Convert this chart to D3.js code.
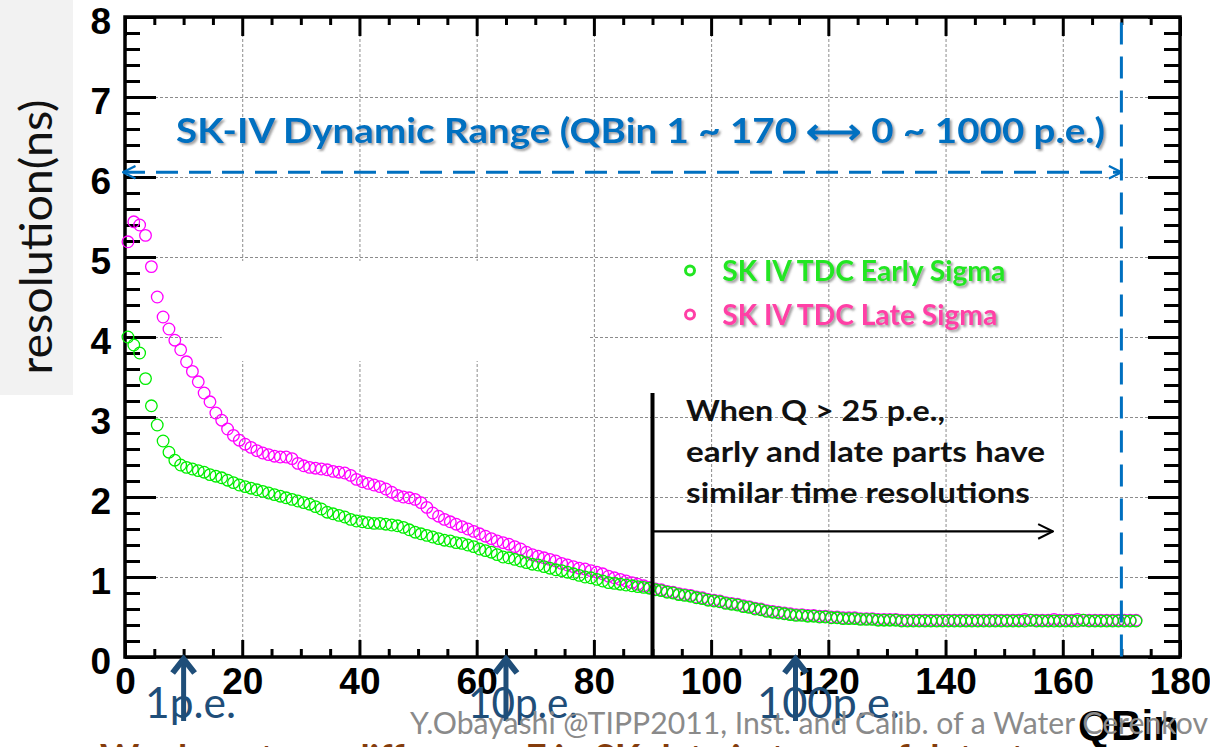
<!DOCTYPE html>
<html>
<head>
<meta charset="utf-8">
<script src="https://cdn.jsdelivr.net/npm/d3@7/dist/d3.min.js"></script>
<style>
    body { margin: 0; background: #fff; }
    svg { display: block; }
    .axis .tick text { font-family: "Liberation Sans", Arial, sans-serif; font-weight: bold; font-size: 37px; fill: #000; }
    .axis .tick line { stroke: #000; stroke-width: 3; }
    .axis .domain { display: none; }
    .grid .tick line { stroke: #8c8c8c; stroke-width: 1; stroke-dasharray: 3,2; }
    .grid .domain { display: none; }
    .calibri { font-family: Lato, "Open Sans", sans-serif; }
</style>
</head>
<body>
<svg id="chart"></svg>
<script>
// QBin index of each point (1..173)
const qbins = d3.range(1, 174);

const earlySigma = [
    4.00, 3.90, 3.80, 3.48, 3.14, 2.90, 2.70, 2.56, 2.46, 2.40,
    2.37, 2.35, 2.33, 2.31, 2.28, 2.26, 2.24, 2.21, 2.18, 2.15,
    2.13, 2.11, 2.09, 2.07, 2.05, 2.03, 2.01, 1.99, 1.97, 1.95,
    1.93, 1.91, 1.88, 1.85, 1.81, 1.79, 1.77, 1.75, 1.72, 1.70,
    1.69, 1.68, 1.67, 1.67, 1.66, 1.65, 1.64, 1.62, 1.59, 1.56,
    1.54, 1.52, 1.50, 1.48, 1.46, 1.45, 1.43, 1.42, 1.40, 1.38,
    1.35, 1.33, 1.31, 1.28, 1.25, 1.24, 1.22, 1.20, 1.18, 1.16,
    1.15, 1.13, 1.11, 1.09, 1.08, 1.06, 1.04, 1.02, 1.00, 0.99,
    0.97, 0.95, 0.93, 0.92, 0.91, 0.90, 0.89, 0.88, 0.87, 0.86,
    0.84, 0.83, 0.81, 0.80, 0.78, 0.77, 0.76, 0.74, 0.73, 0.71,
    0.70, 0.69, 0.67, 0.66, 0.65, 0.63, 0.62, 0.60, 0.59, 0.57,
    0.56, 0.55, 0.54, 0.53, 0.52, 0.52, 0.51, 0.51, 0.50, 0.50,
    0.49, 0.49, 0.48, 0.48, 0.48, 0.47, 0.47, 0.47, 0.46, 0.46,
    0.46, 0.46, 0.45, 0.45, 0.45, 0.45, 0.45, 0.45, 0.45, 0.45,
    0.45, 0.45, 0.45, 0.45, 0.45, 0.45, 0.45, 0.45, 0.45, 0.45,
    0.45, 0.45, 0.45, 0.45, 0.46, 0.45, 0.45, 0.45, 0.45, 0.45,
    0.45, 0.45, 0.45, 0.46, 0.45, 0.45, 0.45, 0.45, 0.45, 0.45,
    0.45, 0.45, 0.45
];

const lateSigma = [
    5.19, 5.44, 5.40, 5.27, 4.88, 4.50, 4.25, 4.10, 3.96, 3.84,
    3.69, 3.57, 3.44, 3.30, 3.19, 3.05, 2.96, 2.85, 2.77, 2.71,
    2.66, 2.62, 2.58, 2.55, 2.53, 2.51, 2.50, 2.50, 2.48, 2.42,
    2.39, 2.37, 2.36, 2.35, 2.34, 2.32, 2.31, 2.30, 2.27, 2.22,
    2.19, 2.17, 2.15, 2.13, 2.10, 2.06, 2.02, 2.00, 1.99, 1.97,
    1.93, 1.87, 1.80, 1.76, 1.72, 1.69, 1.66, 1.63, 1.60, 1.57,
    1.54, 1.51, 1.48, 1.45, 1.43, 1.41, 1.38, 1.35, 1.31, 1.28,
    1.26, 1.24, 1.22, 1.20, 1.17, 1.15, 1.13, 1.11, 1.10, 1.08,
    1.06, 1.04, 1.01, 0.99, 0.97, 0.95, 0.93, 0.91, 0.89, 0.87,
    0.85, 0.84, 0.82, 0.81, 0.79, 0.78, 0.77, 0.75, 0.74, 0.72,
    0.71, 0.70, 0.68, 0.67, 0.66, 0.64, 0.63, 0.61, 0.60, 0.58,
    0.57, 0.56, 0.55, 0.54, 0.53, 0.53, 0.52, 0.52, 0.51, 0.51,
    0.50, 0.50, 0.49, 0.49, 0.49, 0.48, 0.48, 0.48, 0.47, 0.47,
    0.47, 0.47, 0.46, 0.46, 0.46, 0.46, 0.46, 0.46, 0.46, 0.46,
    0.46, 0.46, 0.46, 0.46, 0.46, 0.46, 0.46, 0.46, 0.46, 0.46,
    0.46, 0.46, 0.46, 0.47, 0.46, 0.46, 0.46, 0.46, 0.47, 0.46,
    0.46, 0.46, 0.47, 0.46, 0.46, 0.46, 0.46, 0.46, 0.46, 0.46,
    0.46, 0.46, 0.46
];

const xMajorTicks = [0, 20, 40, 60, 80, 100, 120, 140, 160, 180];
const yMajorTicks = [0, 1, 2, 3, 4, 5, 6, 7, 8];
const xGridTicks = [20, 40, 60, 80, 100, 120, 140, 160];
const yGridTicks = [1, 2, 3, 4, 5, 6, 7];
const peMarks = [10, 65, 114.4];
const peLabels = ["1p.e.", "10p.e.", "100p.e."];
const legendLabels = ["SK IV TDC Early Sigma", "SK IV TDC Late Sigma"];

const W = 1210, H = 747;
const svg = d3.select("#chart").attr("width", W).attr("height", H);

const x = d3.scaleLinear().domain([0, 180]).range([125, 1180]);
const y = d3.scaleLinear().domain([0, 8]).range([657, 17]);

const xMinor = d3.range(0, 181, 5).filter(d => d % 20 !== 0);
const yMinor = d3.range(0, 8.01, 0.2).map(d => +d.toFixed(1)).filter(d => d % 1 !== 0);

const defs = svg.append("defs");
const shadow = defs.append("filter").attr("id", "shadow")
    .attr("x", "-5%").attr("y", "-20%").attr("width", "110%").attr("height", "150%");
shadow.append("feDropShadow").attr("dx", 2).attr("dy", 2).attr("stdDeviation", 1.2)
    .attr("flood-color", "#555").attr("flood-opacity", 0.55);

defs.append("marker").attr("id", "blueHead")
    .attr("viewBox", "0 0 12 12").attr("refX", 11).attr("refY", 6)
    .attr("markerWidth", 5).attr("markerHeight", 5).attr("markerUnits", "strokeWidth")
    .attr("orient", "auto-start-reverse")
    .append("path").attr("d", "M1,1 L11,6 L1,11").attr("fill", "none")
    .attr("stroke", "#0070c0").attr("stroke-width", 1.8);

defs.append("marker").attr("id", "blackHead")
    .attr("viewBox", "0 0 12 12").attr("refX", 11).attr("refY", 6)
    .attr("markerWidth", 8).attr("markerHeight", 8).attr("markerUnits", "strokeWidth")
    .attr("orient", "auto")
    .append("path").attr("d", "M1,1 L11,6 L1,11").attr("fill", "none")
    .attr("stroke", "#000").attr("stroke-width", 1.4);

svg.append("rect").attr("width", W).attr("height", H).attr("fill", "#fff");

// left grey panel with the axis title
svg.append("rect").attr("x", 0).attr("y", 0).attr("width", 73).attr("height", 395).attr("fill", "#f2f2f2");
svg.append("text").attr("class", "calibri")
    .attr("transform", "translate(52,237) rotate(-90)")
    .attr("text-anchor", "middle")
    .attr("font-size", 44).attr("fill", "#111")
    .attr("textLength", 275).attr("lengthAdjust", "spacingAndGlyphs")
    .text("resolution(ns)");

// grid
svg.append("g").attr("class", "grid")
    .attr("transform", "translate(0," + y(0) + ")")
    .call(d3.axisBottom(x).tickValues(xGridTicks).tickSize(-(y(0) - y(8))).tickFormat(""));
svg.append("g").attr("class", "grid")
    .attr("transform", "translate(" + x(0) + ",0)")
    .call(d3.axisLeft(y).tickValues(yGridTicks).tickSize(-(x(180) - x(0))).tickFormat(""));

// empty white text box that hides part of the grid
svg.append("rect")
    .attr("x", x(16.5)).attr("y", y(4.95))
    .attr("width", x(79) - x(16.5)).attr("height", y(3.7) - y(4.95))
    .attr("fill", "#fff");

// axes: bottom
svg.append("g").attr("class", "axis").attr("transform", "translate(0," + y(0) + ")")
    .call(d3.axisBottom(x).tickValues(xMinor).tickSize(-8).tickFormat(""));
svg.append("g").attr("class", "axis").attr("transform", "translate(0," + y(0) + ")")
    .call(d3.axisBottom(x).tickValues(xMajorTicks).tickSize(-17).tickPadding(11).tickFormat(d3.format("d")));
// top
svg.append("g").attr("class", "axis").attr("transform", "translate(0," + y(8) + ")")
    .call(d3.axisTop(x).tickValues(xMinor).tickSize(-8).tickFormat(""));
svg.append("g").attr("class", "axis").attr("transform", "translate(0," + y(8) + ")")
    .call(d3.axisTop(x).tickValues(xMajorTicks).tickSize(-19).tickFormat(""));
// left
svg.append("g").attr("class", "axis").attr("transform", "translate(" + x(0) + ",0)")
    .call(d3.axisLeft(y).tickValues(yMinor).tickSize(-15).tickFormat(""));
const yAxisG = svg.append("g").attr("class", "axis").attr("transform", "translate(" + x(0) + ",0)")
    .call(d3.axisLeft(y).tickValues(yMajorTicks).tickSize(-31).tickPadding(14).tickFormat(d3.format("d")));
yAxisG.selectAll(".tick text").attr("dy", "0.45em");
// right
svg.append("g").attr("class", "axis").attr("transform", "translate(" + x(180) + ",0)")
    .call(d3.axisRight(y).tickValues(yMinor).tickSize(-16).tickFormat(""));
svg.append("g").attr("class", "axis").attr("transform", "translate(" + x(180) + ",0)")
    .call(d3.axisRight(y).tickValues(yMajorTicks).tickSize(-32).tickFormat(""));

// frame
svg.append("rect")
    .attr("x", x(0)).attr("y", y(8))
    .attr("width", x(180) - x(0)).attr("height", y(0) - y(8))
    .attr("fill", "none").attr("stroke", "#000").attr("stroke-width", 3.5);

// data points
svg.append("g").selectAll("circle")
    .data(lateSigma)
    .join("circle")
    .attr("cx", (d, i) => x(qbins[i] - 0.5))
    .attr("cy", d => y(d))
    .attr("r", 5.8)
    .attr("fill", "none")
    .attr("stroke", "#ff00ff")
    .attr("stroke-width", 1.3);

svg.append("g").selectAll("circle")
    .data(earlySigma)
    .join("circle")
    .attr("cx", (d, i) => x(qbins[i] - 0.5))
    .attr("cy", d => y(d))
    .attr("r", 5.8)
    .attr("fill", "none")
    .attr("stroke", "#00ee00")
    .attr("stroke-width", 1.3);

// legend
const legendColors = ["#22e622", "#ff3fa6"];
const legendY = [4.83, 4.28];
const legendLen = [283, 275];
legendLabels.forEach((lab, i) => {
    svg.append("circle")
        .attr("cx", x(96.4)).attr("cy", y(legendY[i]))
        .attr("r", 4.5).attr("fill", "none")
        .attr("stroke", legendColors[i]).attr("stroke-width", 3);
    svg.append("text").attr("class", "calibri")
        .attr("x", x(101.9)).attr("y", y(legendY[i]) + 10)
        .attr("font-size", 28).attr("font-weight", "bold")
        .attr("fill", legendColors[i])
        .attr("filter", "url(#shadow)")
        .attr("textLength", legendLen[i]).attr("lengthAdjust", "spacingAndGlyphs")
        .text(lab);
});

// dynamic range annotation
svg.append("line")
    .attr("x1", x(0) - 2).attr("x2", x(170))
    .attr("y1", y(6.06)).attr("y2", y(6.06))
    .attr("stroke", "#0070c0").attr("stroke-width", 3)
    .attr("stroke-dasharray", "22,11")
    .attr("marker-start", "url(#blueHead)")
    .attr("marker-end", "url(#blueHead)");
svg.append("line")
    .attr("x1", x(170)).attr("x2", x(170))
    .attr("y1", y(7.93)).attr("y2", y(0))
    .attr("stroke", "#0070c0").attr("stroke-width", 3)
    .attr("stroke-dasharray", "22,12");
svg.append("text").attr("class", "calibri")
    .attr("x", 176).attr("y", 143)
    .attr("font-size", 34).attr("font-weight", "bold")
    .attr("fill", "#0070c0")
    .attr("filter", "url(#shadow)")
    .attr("textLength", 929).attr("lengthAdjust", "spacingAndGlyphs")
    .text("SK-IV Dynamic Range (QBin 1 ~ 170 \u27F7 0 ~ 1000 p.e.)");

// Q > 25 p.e. annotation
svg.append("line")
    .attr("x1", x(90)).attr("x2", x(90))
    .attr("y1", y(3.3)).attr("y2", y(0))
    .attr("stroke", "#000").attr("stroke-width", 4);
svg.append("line")
    .attr("x1", x(90)).attr("x2", x(158.3))
    .attr("y1", y(1.57)).attr("y2", y(1.57))
    .attr("stroke", "#000").attr("stroke-width", 2.2)
    .attr("marker-end", "url(#blackHead)");
const noteLines = ["When Q > 25 p.e.,", "early and late parts have", "similar time resolutions"];
const noteLen = [259, 359, 344];
noteLines.forEach((t, i) => {
    svg.append("text").attr("class", "calibri")
        .attr("x", 686).attr("y", 421 + i * 41)
        .attr("font-size", 29).attr("font-weight", "bold")
        .attr("fill", "#111")
        .attr("textLength", noteLen[i]).attr("lengthAdjust", "spacingAndGlyphs")
        .text(t);
});

// p.e. arrows under the axis
const peLabelX = [145, 468, 757];
const peLabelLen = [91, 110, 143];
peMarks.forEach((q, i) => {
    const px = x(q);
    svg.append("line")
        .attr("x1", px).attr("x2", px).attr("y1", y(0) + 64).attr("y2", y(0) + 2)
        .attr("stroke", "#1f4e79").attr("stroke-width", 5);
    svg.append("path")
        .attr("d", "M" + (px - 11) + "," + (y(0) + 16) + " L" + px + "," + (y(0) + 2) + " L" + (px + 11) + "," + (y(0) + 16))
        .attr("fill", "none").attr("stroke", "#1f4e79").attr("stroke-width", 6)
        .attr("stroke-linejoin", "miter");
    svg.append("text").attr("class", "calibri")
        .attr("x", peLabelX[i]).attr("y", 718)
        .attr("font-size", 43).attr("fill", "#1f4e79")
        .attr("textLength", peLabelLen[i]).attr("lengthAdjust", "spacingAndGlyphs")
        .text(peLabels[i]);
});

// axis title and slide footer
svg.append("text")
    .attr("x", 1078).attr("y", 740)
    .attr("font-family", "'Liberation Sans', Arial, sans-serif")
    .attr("font-size", 43).attr("font-weight", "bold")
    .attr("textLength", 101).attr("lengthAdjust", "spacingAndGlyphs")
    .text("QBin");
svg.append("text").attr("class", "calibri")
    .attr("x", 410).attr("y", 734)
    .attr("font-size", 30).attr("fill", "#8a8a8a")
    .attr("textLength", 798).attr("lengthAdjust", "spacingAndGlyphs")
    .text("Y.Obayashi @TIPP2011, Inst. and Calib. of a Water Cerenkov");
svg.append("text").attr("class", "calibri")
    .attr("x", 100).attr("y", 772)
    .attr("font-size", 38).attr("font-weight", "bold").attr("fill", "#843c0c")
    .attr("textLength", 960).attr("lengthAdjust", "spacingAndGlyphs")
    .text("We do not see difference F in SK data in terms of detector");
</script>
</body>
</html>
